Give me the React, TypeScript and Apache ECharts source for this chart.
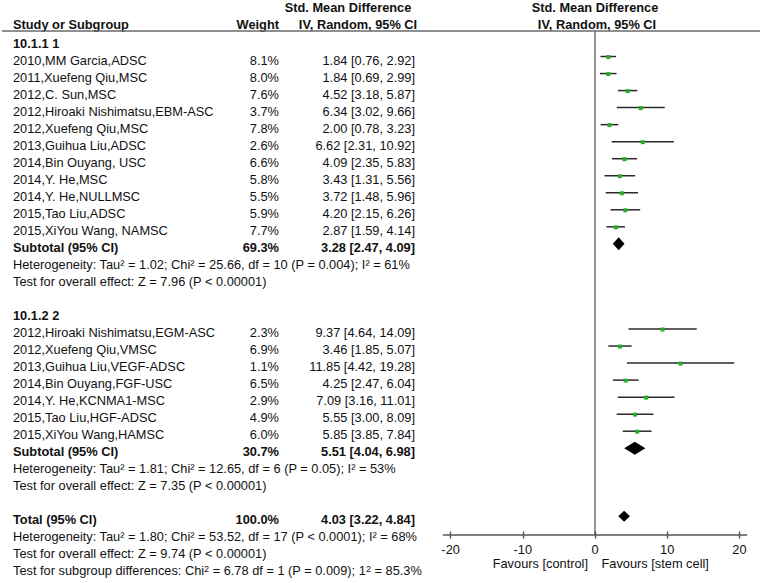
import React, { useEffect, useRef } from "react";
import * as echarts from "echarts";

// ---------- data ----------
const groupNames = ["10.1.1 1", "10.1.2 2"];

const g1Studies = [
  "2010,MM Garcia,ADSC",
  "2011,Xuefeng Qiu,MSC",
  "2012,C. Sun,MSC",
  "2012,Hiroaki Nishimatsu,EBM-ASC",
  "2012,Xuefeng Qiu,MSC",
  "2013,Guihua Liu,ADSC",
  "2014,Bin Ouyang, USC",
  "2014,Y. He,MSC",
  "2014,Y. He,NULLMSC",
  "2015,Tao Liu,ADSC",
  "2015,XiYou Wang, NAMSC",
];
const g1Weights = [8.1, 8.0, 7.6, 3.7, 7.8, 2.6, 6.6, 5.8, 5.5, 5.9, 7.7];
const g1Est = [1.84, 1.84, 4.52, 6.34, 2.0, 6.62, 4.09, 3.43, 3.72, 4.2, 2.87];
const g1Lo = [0.76, 0.69, 3.18, 3.02, 0.78, 2.31, 2.35, 1.31, 1.48, 2.15, 1.59];
const g1Hi = [2.92, 2.99, 5.87, 9.66, 3.23, 10.92, 5.83, 5.56, 5.96, 6.26, 4.14];

const g2Studies = [
  "2012,Hiroaki Nishimatsu,EGM-ASC",
  "2012,Xuefeng Qiu,VMSC",
  "2013,Guihua Liu,VEGF-ADSC",
  "2014,Bin Ouyang,FGF-USC",
  "2014,Y. He,KCNMA1-MSC",
  "2015,Tao Liu,HGF-ADSC",
  "2015,XiYou Wang,HAMSC",
];
const g2Weights = [2.3, 6.9, 1.1, 6.5, 2.9, 4.9, 6.0];
const g2Est = [9.37, 3.46, 11.85, 4.25, 7.09, 5.55, 5.85];
const g2Lo = [4.64, 1.85, 4.42, 2.47, 3.16, 3.0, 3.85];
const g2Hi = [14.09, 5.07, 19.28, 6.04, 11.01, 8.09, 7.84];

const subtotalWeights = [69.3, 30.7];
const subtotalEst = [3.28, 5.51];
const subtotalLo = [2.47, 4.04];
const subtotalHi = [4.09, 6.98];
const groupHet = [
  "Heterogeneity: Tau\u00b2 = 1.02; Chi\u00b2 = 25.66, df = 10 (P = 0.004); I\u00b2 = 61%",
  "Heterogeneity: Tau\u00b2 = 1.81; Chi\u00b2 = 12.65, df = 6 (P = 0.05); I\u00b2 = 53%",
];
const groupEffect = [
  "Test for overall effect: Z = 7.96 (P < 0.00001)",
  "Test for overall effect: Z = 7.35 (P < 0.00001)",
];

const totalWeight = 100.0;
const totalEst = 4.03;
const totalLo = 3.22;
const totalHi = 4.84;
const totalHet = "Heterogeneity: Tau\u00b2 = 1.80; Chi\u00b2 = 53.52, df = 17 (P < 0.0001); I\u00b2 = 68%";
const totalEffect = "Test for overall effect: Z = 9.74 (P < 0.00001)";
const subgroupTest = "Test for subgroup differences: Chi{s|2} = 6.78 df = 1 (P = 0.009); 1{s|2} = 85.3%";

const xTicks = [-20, -10, 0, 10, 20];
const xMin = -21;
const xMax = 21;
const favoursLeft = "Favours [control]";
const favoursRight = "Favours [stem cell]";

// ---------- layout ----------
const FONT = '"Liberation Sans", Arial, Helvetica, sans-serif';
const FS = 12.8;
const TXT = "#111";
const ROW0 = 43;
const ROWH = 17.03;
const MARK_DY = -3.5;
const NAME_X = 13;
const WEIGHT_X = 279;
const CI_X = 415;
const GRID_L = 443.4;
const GRID_R = 746.6;
const GRID_T = 31;
const GRID_B = 534.5;

const rowY = (i: number) => ROW0 + i * ROWH;
const fmtCI = (e: number, l: number, h: number) =>
  `${e.toFixed(2)} [${l.toFixed(2)}, ${h.toFixed(2)}]`;

export default function App() {
  const ref = useRef<HTMLDivElement>(null);

  useEffect(() => {
    if (!ref.current) return;
    const chart = echarts.init(ref.current, undefined, { renderer: "svg" });

    const graphics: any[] = [];
    const txt = (text: string, x: number, y: number, align = "left", bold = false, rich?: any) => {
      graphics.push({
        type: "text",
        x,
        y,
        silent: true,
        style: {
          text,
          fontFamily: FONT,
          fontSize: FS,
          fontWeight: bold ? "bold" : "normal",
          fill: TXT,
          align,
          verticalAlign: "middle",
          ...(rich ? { rich } : {}),
        },
      });
    };

    // headers
    txt("Std. Mean Difference", 348, 7.5, "center", true);
    txt("Study or Subgroup", NAME_X, 24.5, "left", true);
    txt("Weight", WEIGHT_X, 24.5, "right", true);
    txt("IV, Random, 95% CI", 358, 24.5, "center", true);
    txt("Std. Mean Difference", 595, 7.5, "center", true);
    txt("IV, Random, 95% CI", 597, 24.5, "center", true);
    graphics.push({
      type: "line",
      silent: true,
      shape: { x1: 2, y1: GRID_T, x2: 760, y2: GRID_T },
      style: { stroke: "#6a6a6a", lineWidth: 1.6 },
    });

    const plotData: number[][] = [];
    const groups = [
      { names: g1Studies, w: g1Weights, e: g1Est, l: g1Lo, h: g1Hi },
      { names: g2Studies, w: g2Weights, e: g2Est, l: g2Lo, h: g2Hi },
    ];
    let r = 0;
    groups.forEach((g, gi) => {
      txt(groupNames[gi], NAME_X, rowY(r), "left", true);
      r++;
      g.names.forEach((n, i) => {
        txt(n, NAME_X, rowY(r), "left");
        txt(`${g.w[i].toFixed(1)}%`, WEIGHT_X, rowY(r), "right");
        txt(fmtCI(g.e[i], g.l[i], g.h[i]), CI_X, rowY(r), "right");
        plotData.push([g.e[i], g.l[i], g.h[i], r, 0, g.w[i]]);
        r++;
      });
      txt("Subtotal (95% CI)", NAME_X, rowY(r), "left", true);
      txt(`${subtotalWeights[gi].toFixed(1)}%`, WEIGHT_X, rowY(r), "right", true);
      txt(fmtCI(subtotalEst[gi], subtotalLo[gi], subtotalHi[gi]), CI_X, rowY(r), "right", true);
      plotData.push([subtotalEst[gi], subtotalLo[gi], subtotalHi[gi], r, 1, subtotalWeights[gi]]);
      r++;
      txt(groupHet[gi], NAME_X, rowY(r), "left");
      r++;
      txt(groupEffect[gi], NAME_X, rowY(r), "left");
      r += 2;
    });
    txt("Total (95% CI)", NAME_X, rowY(r), "left", true);
    txt(`${totalWeight.toFixed(1)}%`, WEIGHT_X, rowY(r), "right", true);
    txt(fmtCI(totalEst, totalLo, totalHi), CI_X, rowY(r), "right", true);
    plotData.push([totalEst, totalLo, totalHi, r, 2, totalWeight]);
    r++;
    txt(totalHet, NAME_X, rowY(r), "left");
    r++;
    txt(totalEffect, NAME_X, rowY(r), "left");
    r++;
    txt(subgroupTest, NAME_X, rowY(r), "left", false, {
      s: { fontFamily: FONT, fontSize: 9, fill: TXT, verticalAlign: "top", lineHeight: 9 },
    });

    // favours labels
    txt(favoursLeft, 588, 563.5, "right");
    txt(favoursRight, 601.5, 563.5, "left");

    // y axis in row units, with marks drawn slightly above text centres
    const yMin = (GRID_T - (ROW0 + MARK_DY)) / ROWH;
    const yMax = (GRID_B - (ROW0 + MARK_DY)) / ROWH;

    const axisCommon = {
      type: "value",
      min: xMin,
      max: xMax,
      position: "bottom",
      splitLine: { show: false },
    };

    chart.setOption({
      animation: false,
      grid: {
        left: GRID_L,
        top: GRID_T,
        width: GRID_R - GRID_L,
        height: GRID_B - GRID_T,
        containLabel: false,
      },
      xAxis: [
        {
          ...axisCommon,
          axisLine: { show: true, onZero: false, lineStyle: { color: "#555", width: 1.6 } },
          axisTick: {
            show: true,
            inside: false,
            length: 4,
            customValues: xTicks,
            lineStyle: { color: "#555", width: 1.4 },
          },
          axisLabel: {
            show: true,
            customValues: xTicks,
            margin: 8,
            fontFamily: FONT,
            fontSize: FS,
            color: TXT,
          },
        },
        {
          ...axisCommon,
          axisLine: { show: false, onZero: false },
          axisTick: {
            show: true,
            inside: true,
            length: 3,
            customValues: xTicks,
            lineStyle: { color: "#555", width: 1.4 },
          },
          axisLabel: { show: false },
        },
      ],
      yAxis: {
        type: "value",
        inverse: true,
        min: yMin,
        max: yMax,
        axisLine: { show: true, onZero: true, lineStyle: { color: "#7a7a7a", width: 1.6 } },
        axisTick: { show: false },
        axisLabel: { show: false },
        splitLine: { show: false },
      },
      series: [
        {
          type: "custom",
          xAxisIndex: 0,
          encode: { x: [0, 1, 2], y: 3 },
          data: plotData,
          renderItem: (_p: any, api: any) => {
            const est = api.value(0);
            const lo = api.value(1);
            const hi = api.value(2);
            const row = api.value(3);
            const kind = api.value(4);
            const pE = api.coord([est, row]);
            const pL = api.coord([lo, row]);
            const pH = api.coord([hi, row]);
            if (kind === 0) {
              return {
                type: "group",
                children: [
                  {
                    type: "line",
                    shape: { x1: pL[0], y1: pL[1], x2: pH[0], y2: pH[1] },
                    style: { stroke: "#2a2a2a", lineWidth: 1.5 },
                  },
                  {
                    type: "rect",
                    shape: { x: pE[0] - 2, y: pE[1] - 1.5, width: 4, height: 4 },
                    style: { fill: "#22b022" },
                  },
                ],
              };
            }
            const h = kind === 1 ? 6.5 : 5.5;
            return {
              type: "polygon",
              shape: {
                points: [
                  [pL[0], pE[1]],
                  [pE[0], pE[1] - h],
                  [pH[0], pE[1]],
                  [pE[0], pE[1] + h],
                ],
              },
              style: { fill: "#000" },
            };
          },
        },
      ],
      graphic: graphics,
    });

    return () => chart.dispose();
  }, []);

  return (
    <div
      ref={ref}
      style={{ position: "fixed", left: 0, top: 0, width: 760, height: 583, background: "#fff" }}
    />
  );
}
